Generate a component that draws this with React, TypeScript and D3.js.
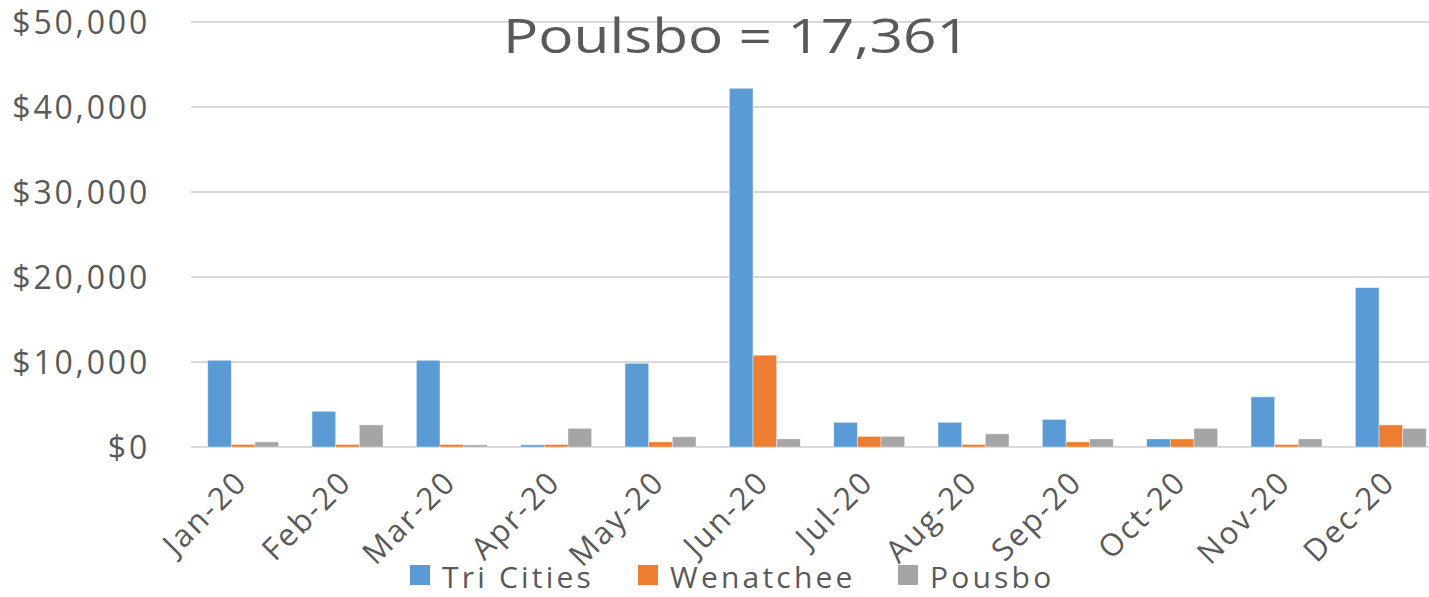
import { useEffect, useRef } from 'react';
import * as d3 from 'd3';

// Monthly amounts (USD)
const MONTHS = ['Jan-20', 'Feb-20', 'Mar-20', 'Apr-20', 'May-20', 'Jun-20', 'Jul-20', 'Aug-20', 'Sep-20', 'Oct-20', 'Nov-20', 'Dec-20'];
const SERIES = ['Tri Cities', 'Wenatchee', 'Pousbo'];
const TRI_CITIES = [10200, 4200, 10200, 250, 9850, 42200, 2900, 2900, 3250, 950, 5900, 18750];
const WENATCHEE = [300, 300, 300, 300, 600, 10800, 1250, 300, 600, 950, 300, 2600];
const POUSBO = [600, 2600, 250, 2200, 1200, 950, 1250, 1550, 950, 2200, 950, 2200];
const Y_TICKS = [0, 10000, 20000, 30000, 40000, 50000];
const TITLE = 'Poulsbo = 17,361';

const WIDTH = 1429;
const HEIGHT = 597;
const PLOT = { left: 191, right: 1443, top: 22, bottom: 447 };
const COLORS = ['#5b9bd5', '#ed7d31', '#a5a5a5'];
const TEXT = '#595959';
const FONT = '"Open Sans", "Noto Sans", sans-serif';

export default function App() {
  const svgRef = useRef<SVGSVGElement | null>(null);

  useEffect(() => {
    const svgEl = svgRef.current;
    if (!svgEl) return;
    const svg = d3.select(svgEl);
    svg.selectAll('*').remove();

    const values = [TRI_CITIES, WENATCHEE, POUSBO];

    const x0 = d3.scaleBand<string>().domain(MONTHS).range([PLOT.left, PLOT.right]).padding(0);
    const step = x0.step();
    const x1 = d3
      .scaleBand<string>()
      .domain(SERIES)
      .range([step * 0.16, step * 0.84])
      .padding(0);
    const y = d3.scaleLinear().domain([0, 50000]).range([PLOT.bottom, PLOT.top]);

    // ---- gridlines ----
    svg
      .append('g')
      .selectAll('line')
      .data(Y_TICKS)
      .join('line')
      .attr('x1', PLOT.left)
      .attr('x2', PLOT.right)
      .attr('y1', (d) => y(d))
      .attr('y2', (d) => y(d))
      .attr('stroke', '#d9d9d9')
      .attr('stroke-width', 2);

    // ---- y labels ----
    svg
      .append('g')
      .selectAll('text')
      .data(Y_TICKS)
      .join('text')
      .attr('x', 150)
      .attr('y', (d) => y(d))
      .attr('dy', '0.36em')
      .attr('text-anchor', 'end')
      .attr('font-family', FONT)
      .attr('font-size', 32)
      .attr('letter-spacing', 2.8)
      .attr('fill', TEXT)
      .text((d) => d3.format('$,')(d));

    // ---- bars ----
    const groups = svg
      .append('g')
      .selectAll('g')
      .data(MONTHS)
      .join('g')
      .attr('transform', (m) => `translate(${x0(m)},0)`);
    groups
      .selectAll('rect')
      .data((_, i) => SERIES.map((s, k) => ({ s, k, v: values[k][i] })))
      .join('rect')
      .attr('x', (d) => x1(d.s) ?? 0)
      .attr('width', x1.bandwidth())
      .attr('y', (d) => y(d.v))
      .attr('height', (d) => y(0) - y(d.v))
      .attr('fill', (d) => COLORS[d.k])
      .attr('stroke', '#ffffff')
      .attr('stroke-opacity', 0.5)
      .attr('stroke-width', 0.8);

    // ---- x labels ----
    svg
      .append('g')
      .selectAll('text')
      .data(MONTHS)
      .join('text')
      .attr('transform', (m) => `translate(${(x0(m) ?? 0) + step / 2 - 2},476) rotate(-45)`)
      .attr('dy', '0.36em')
      .attr('text-anchor', 'end')
      .attr('font-family', FONT)
      .attr('font-size', 31)
      .attr('letter-spacing', 2.2)
      .attr('fill', TEXT)
      .text((m) => m);

    // ---- title ----
    svg
      .append('text')
      .attr('x', 503)
      .attr('y', 53)
      .attr('font-family', FONT)
      .attr('font-size', 47)
      .attr('textLength', 467)
      .attr('lengthAdjust', 'spacingAndGlyphs')
      .attr('fill', TEXT)
      .text(TITLE);

    // ---- legend ----
    const legendX = [410, 638, 898];
    const legend = svg
      .append('g')
      .selectAll('g')
      .data(SERIES)
      .join('g')
      .attr('transform', (_, i) => `translate(${legendX[i]},565)`);
    legend
      .append('rect')
      .attr('width', 20)
      .attr('height', 20)
      .attr('fill', (_, i) => COLORS[i]);
    legend
      .append('text')
      .attr('x', 32)
      .attr('y', 23)
      .attr('font-family', FONT)
      .attr('font-size', 30)
      .attr('letter-spacing', 3.2)
      .attr('fill', TEXT)
      .text((s) => s);
  }, []);

  return (
    <svg
      ref={svgRef}
      width={WIDTH}
      height={HEIGHT}
      style={{ position: 'absolute', left: 0, top: 0, display: 'block', background: '#ffffff' }}
    />
  );
}
